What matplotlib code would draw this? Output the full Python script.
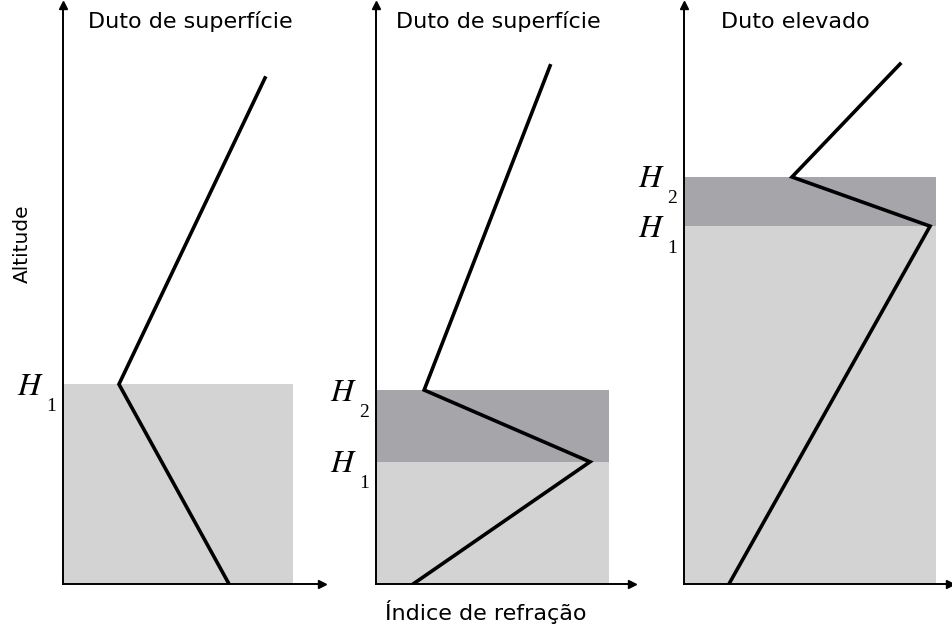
import matplotlib
matplotlib.use("Agg")
import matplotlib.pyplot as plt
from matplotlib.patches import Rectangle
from matplotlib.transforms import offset_copy

plt.rcParams['font.family'] = ['DejaVu Sans']
plt.rcParams['mathtext.fontset'] = 'stix'

# ---- data (arbitrary units: index 0-100 along axis, altitude 0-100) ----
titles = ["Duto de superfície", "Duto de superfície", "Duto elevado"]

p1_index = [78.0, 21.6, 64.1]
p1_alt = [87.4, 34.5, 0.0]
p1_layers = {"1": 34.5}
p1_shade_right = 88.8

p2_index = [68.0, 18.8, 83.6, 14.5]
p2_alt = [89.5, 33.5, 21.1, 0.0]
p2_layers = {"1": 21.1, "2": 33.5}
p2_shade_right = 91.0

p3_index = [81.2, 40.6, 92.5, 16.9]
p3_alt = [89.8, 70.3, 61.8, 0.0]
p3_layers = {"1": 61.8, "2": 70.3}
p3_shade_right = 94.7

xlabel = "Índice de refração"
ylabel = "Altitude"

light = "#d3d3d3"
dark = "#a6a6aa"

W, H = 953, 634
fig = plt.figure(figsize=(W / 100, H / 100), dpi=100)

panels = [
    (63, 259, p1_index, p1_alt, p1_layers, p1_shade_right, 190),
    (376, 256, p2_index, p2_alt, p2_layers, p2_shade_right, 498),
    (684, 266, p3_index, p3_alt, p3_layers, p3_shade_right, 795),
]
top_px, bot_px = 5, 584

for i, (left, width, xs, ys, layers, sr, tx) in enumerate(panels):
    ax = fig.add_axes([left / W, (H - bot_px) / H, width / W, (bot_px - top_px) / H])
    ax.set_xlim(0, 100)
    ax.set_ylim(0, 100)
    ax.set_facecolor("none")
    for s in ["top", "right"]:
        ax.spines[s].set_visible(False)
    for s in ["left", "bottom"]:
        ax.spines[s].set_linewidth(1.4)
        ax.spines[s].set_color("black")
    ax.set_xticks([])
    ax.set_yticks([])
    # shaded layers
    h1 = layers["1"]
    ax.add_patch(Rectangle((0, 0), sr, h1, facecolor=light, edgecolor="none", zorder=1))
    if "2" in layers:
        h2 = layers["2"]
        ax.add_patch(Rectangle((0, h1), sr, h2 - h1, facecolor=dark, edgecolor="none", zorder=1))
    # profile
    ax.plot(xs, ys, color="black", lw=2.6, solid_joinstyle="miter", zorder=3)
    # arrowheads
    ax.plot(1, 0, marker=">", color="black", ms=6, transform=ax.transAxes, clip_on=False, zorder=4)
    ax.plot(0, 1, marker="^", color="black", ms=6, transform=ax.transAxes, clip_on=False, zorder=4)
    # H labels
    ytr = ax.get_yaxis_transform()
    for sub, val in layers.items():
        ax.text(0, val, "$H$", ha="right", va="center", fontsize=23,
                transform=offset_copy(ytr, fig=fig, x=-19, y=-2, units="dots"), clip_on=False)
        ax.text(0, val, sub, ha="right", va="center", fontsize=14,
                family="Liberation Serif",
                transform=offset_copy(ytr, fig=fig, x=-7, y=-22, units="dots"), clip_on=False)
    fig.text(tx / W, 1 - 22 / H, titles[i], ha="center", va="center", fontsize=16)

fig.text(486 / W, 1 - 612 / H, xlabel, ha="center", va="center", fontsize=16)
fig.text(22 / W, 1 - 244 / H, ylabel, ha="center", va="center", fontsize=14.5, rotation=90)

fig.savefig("out.png", dpi=100, facecolor="white")
